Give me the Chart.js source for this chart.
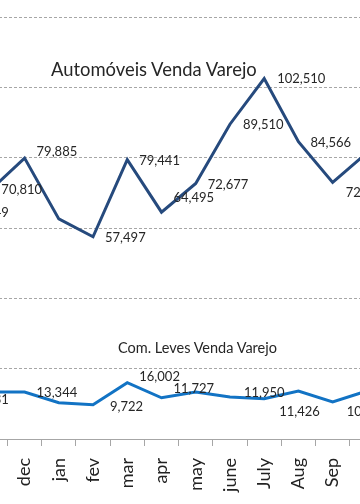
<!DOCTYPE html>
<html>
<head>
<meta charset="utf-8">
<script src="https://cdn.jsdelivr.net/npm/chart.js@4.4.1/dist/chart.umd.min.js"></script>
<style>
  html, body { margin: 0; padding: 0; background: #fff; overflow: hidden; }
  #wrap { position: relative; width: 360px; height: 504px; overflow: hidden; }
  /* the chart is wider than the window: the picture is a crop of it */
  #box { position: absolute; left: -61px; top: 0; width: 445px; height: 504px; }
  .ttl { position: absolute; font-family: Lato, sans-serif; color: #262626; white-space: nowrap; line-height: normal; }
</style>
</head>
<body>
<div id="wrap">
  <div id="box"><canvas id="salesChart"></canvas></div>
  <div class="ttl" style="left:51px; top:58px; font-size:18.4px;">Automóveis Venda Varejo</div>
  <div class="ttl" style="left:118px; top:339px; font-size:14.5px;">Com. Leves Venda Varejo</div>
</div>
<script>
// Months on the x axis (first two and the last one fall outside the crop)
const months = ['oct', 'nov', 'dec', 'jan', 'fev', 'mar', 'apr', 'may', 'june', 'July', 'Aug', 'Sep', 'Oct'];

// Automóveis (cars) retail sales
const autoSales = [64249, 70810, 79885, 62590, 57497, 79441, 64495, 72677, 89510, 102510, 84566, 72950, 81370];
// which points carry a value label
const autoShown = [true, true, true, false, true, true, true, true, true, true, true, true, false];

// Com. Leves (light commercial) retail sales
const lightSales = [10531, 13400, 13344, 10300, 9722, 16002, 11727, 13370, 11950, 11426, 13650, 10526, 13650];
const lightShown = [true, false, true, false, true, true, true, false, true, true, false, true, false];

// Y axis range and step
const yMax = 120000;
const yStep = 20000;

// label nudges (pixels) so the labels sit like in the original
const autoDx = [12, 11, 12, 12, 12, 12, 12, 12, 13, 13, 12, 13, 12];
const autoDy = [0, 0, -6, 0, 1, 1, -14, 1, 1, 0, 1, 10, 0];
const lightDx = [12, 12, 12, 12, 17, 12, 12, 12, 14, 15, 12, 14, 12];
const lightDy = [-2, 0, 1, 0, 2, -6, -9, 0, -4, 13, 0, 10, 0];

// Plugin that writes the value next to each point
const pointLabels = {
    id: 'pointLabels',
    afterDatasetsDraw(chart) {
        const ctx = chart.ctx;
        ctx.save();
        ctx.font = '13px Lato';
        ctx.fillStyle = '#262626';
        ctx.textAlign = 'left';
        ctx.textBaseline = 'middle';
        chart.data.datasets.forEach((ds, i) => {
            chart.getDatasetMeta(i).data.forEach((pt, j) => {
                if (!ds.shown[j]) return;
                ctx.fillText(ds.data[j].toLocaleString('en-US'), pt.x + ds.dx[j], pt.y + ds.dy[j]);
            });
        });
        ctx.restore();
    }
};

const ctx = document.getElementById('salesChart').getContext('2d');

new Chart(ctx, {
    type: 'line',
    data: {
        labels: months,
        datasets: [
            {
                label: 'Automóveis Venda Varejo',
                data: autoSales,
                shown: autoShown, dx: autoDx, dy: autoDy,
                borderColor: '#264a7d',
                borderWidth: 3,
                pointRadius: 0,
                tension: 0
            },
            {
                label: 'Com. Leves Venda Varejo',
                data: lightSales,
                shown: lightShown, dx: lightDx, dy: lightDy,
                borderColor: '#1273c4',
                borderWidth: 3,
                pointRadius: 0,
                tension: 0
            }
        ]
    },
    options: {
        responsive: true,
        maintainAspectRatio: false,
        animation: false,
        layout: { padding: { top: 17, left: 0, right: 0, bottom: 0 } },
        plugins: {
            legend: { display: false },
            tooltip: { enabled: false }
        },
        scales: {
            x: {
                offset: true,
                grid: {
                    display: true,
                    drawOnChartArea: false,
                    offset: true,
                    tickLength: 7,
                    tickColor: '#a6a6a6'
                },
                border: { display: true, color: '#a6a6a6', width: 1 },
                ticks: {
                    autoSkip: false,
                    minRotation: 90,
                    maxRotation: 90,
                    padding: 12,
                    color: '#222',
                    font: { family: 'Lato', size: 18 }
                },
                // fixed axis height, and no extra side padding for the rotated labels
                afterFit: (scale) => {
                    scale.height = 65;
                    scale.paddingLeft = 0;
                    scale.paddingRight = 0;
                }
            },
            y: {
                min: 0,
                max: yMax,
                ticks: { display: false, stepSize: yStep },
                grid: { color: '#a6a6a6', lineWidth: 1, drawTicks: false },
                border: { display: false, dash: [3, 2] },
                afterFit: (scale) => { scale.width = 0; }
            }
        }
    },
    plugins: [pointLabels]
});
</script>
</body>
</html>
